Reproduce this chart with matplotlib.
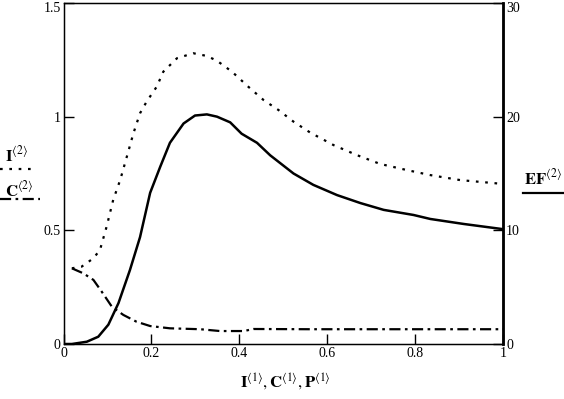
import numpy as np
import matplotlib
matplotlib.use('Agg')
import matplotlib.pyplot as plt
import matplotlib.transforms as mtransforms
from matplotlib.lines import Line2D

plt.rcParams['font.family'] = ['Liberation Serif', 'DejaVu Serif']
plt.rcParams['mathtext.fontset'] = 'stix'

# EF<2> (right axis)
ef_x = [0.0, 0.019, 0.053, 0.079, 0.102, 0.125, 0.151, 0.174, 0.197, 0.220, 0.242,
        0.273, 0.299, 0.326, 0.349, 0.379, 0.405, 0.44, 0.47, 0.523, 0.568,
        0.622, 0.675, 0.728, 0.796, 0.834, 0.910, 1.0]
ef_y = [0.0, 0.0, 0.2, 0.64, 1.7, 3.6, 6.5, 9.4, 13.3, 15.6, 17.7,
        19.4, 20.1, 20.2, 20.0, 19.5, 18.5, 17.7, 16.6, 15.0, 14.0,
        13.1, 12.4, 11.8, 11.35, 11.0, 10.56, 10.1]

# I<2> (left axis), dotted curve
i_x = [0.019, 0.041, 0.068, 0.083, 0.098, 0.113, 0.129, 0.144, 0.159, 0.174, 0.189,
       0.212, 0.227, 0.258, 0.295, 0.326, 0.349, 0.383, 0.42, 0.455, 0.489,
       0.523, 0.561, 0.614, 0.667, 0.72, 0.781, 0.834, 0.902, 1.0]
i_y = [0.333, 0.340, 0.377, 0.414, 0.516, 0.634, 0.722, 0.824, 0.927, 1.015, 1.066,
       1.132, 1.198, 1.257, 1.279, 1.267, 1.246, 1.198, 1.132, 1.073, 1.029,
       0.978, 0.930, 0.875, 0.831, 0.792, 0.765, 0.743, 0.721, 0.704]

# C<2> (left axis), dash-dot curve
c_x = [0.019, 0.045, 0.068, 0.087, 0.110, 0.136, 0.166, 0.197, 0.242, 0.311,
       0.356, 0.41, 0.432, 0.56, 0.8, 1.0]
c_y = [0.333, 0.311, 0.282, 0.230, 0.164, 0.128, 0.098, 0.079, 0.069, 0.065,
       0.057, 0.057, 0.066, 0.065, 0.065, 0.065]

fig = plt.figure(figsize=(5.64, 3.99), dpi=100)
ax = fig.add_axes([63.5/564, 1-344/399, (503.3-63.5)/564, 341/399])
ax2 = ax.twinx()

dotted = (0, (1.2, 3.0))
dashdot = (0, (5, 2, 1.2, 2))

ax.plot(i_x, i_y, color='black', lw=1.6, linestyle=dotted)
ax.plot(c_x, c_y, color='black', lw=1.6, linestyle=dashdot)
ax2.plot(ef_x, ef_y, color='black', lw=1.8)

ax.set_xlim(0, 1)
ax.set_ylim(0, 1.5)
ax2.set_ylim(0, 30)
ax.set_xticks([0, 0.2, 0.4, 0.6, 0.8, 1])
ax.set_xticklabels(['0', '0.2', '0.4', '0.6', '0.8', '1'])
ax.set_yticks([0, 0.5, 1, 1.5])
ax.set_yticklabels(['0', '0.5', '1', '1.5'])
ax2.set_yticks([0, 10, 20, 30])

ax.tick_params(direction='in', length=7, width=1, labelsize=10, pad=2)
ax2.tick_params(direction='in', length=7, width=1, labelsize=10, pad=2)
for s in ax.spines.values():
    s.set_linewidth(1)
ax2.spines['right'].set_linewidth(2)

# keep top tick labels inside the figure
shift = mtransforms.ScaledTranslation(0, -3/72, fig.dpi_scale_trans)
for lab in [ax.get_yticklabels()[-1], ax2.get_yticklabels()[-1]]:
    lab.set_transform(lab.get_transform() + shift)

fig.text(285/564, 1-382/399, r'$\mathbf{I}^{\langle 1\rangle}, \mathbf{C}^{\langle 1\rangle}, \mathbf{P}^{\langle 1\rangle}$',
         ha='center', va='center', fontsize=12)

fig.text(5/564, 1-155/399, r'$\mathbf{I}^{\langle 2\rangle}$', ha='left', va='center', fontsize=12)
fig.add_artist(Line2D([0, 35/564], [1-169/399]*2, color='black', lw=1.6, linestyle=dotted))
fig.text(5/564, 1-190/399, r'$\mathbf{C}^{\langle 2\rangle}$', ha='left', va='center', fontsize=12)
fig.add_artist(Line2D([0, 40/564], [1-199/399]*2, color='black', lw=1.6, linestyle=dashdot))

fig.text(524/564, 1-178/399, r'$\mathbf{EF}^{\langle 2\rangle}$', ha='left', va='center', fontsize=12)
fig.add_artist(Line2D([523/564, 1], [1-193/399]*2, color='black', lw=1.6))

fig.savefig('out.png', dpi=100)
